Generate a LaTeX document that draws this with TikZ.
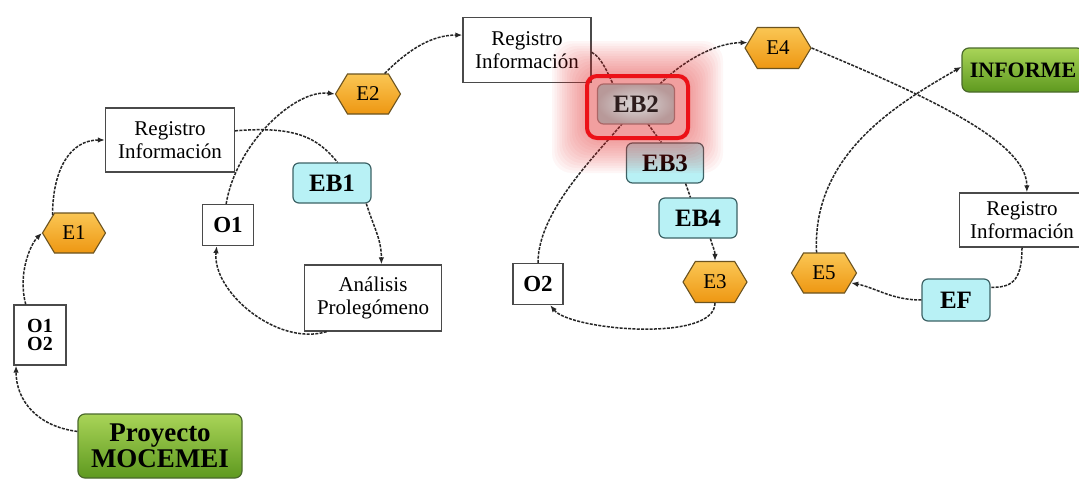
\documentclass[tikz,border=0pt]{standalone}
\usepackage{fontspec}
\setmainfont{Liberation Serif}
\usetikzlibrary{shapes.symbols,arrows.meta}
\definecolor{linegray}{HTML}{262626}
\definecolor{boxgray}{HTML}{4A4A4A}
\definecolor{hexline}{HTML}{6B5320}
\definecolor{hextop}{HTML}{FAC654}
\definecolor{hexbot}{HTML}{EE9712}
\definecolor{cyanfill}{HTML}{B8F1F5}
\definecolor{cyanline}{HTML}{3D6366}
\definecolor{greentop}{HTML}{A9D458}
\definecolor{greenbot}{HTML}{5E991F}
\definecolor{greenline}{HTML}{4B6A2C}
\definecolor{framered}{HTML}{EC1117}
\definecolor{halo}{HTML}{E62A2A}
\definecolor{ebtext}{HTML}{2E1E1E}
\begin{document}
\begin{tikzpicture}[x=1pt,y=-1pt,
  regbox/.style={draw=boxgray, line width=1.3pt, fill=white, align=center, inner sep=0pt,
    font=\fontsize{21}{23}\selectfont},
  obox/.style={draw=boxgray, line width=1.3pt, fill=white, align=center, inner sep=0pt,
    font=\fontsize{23}{20}\selectfont\bfseries},
  hexnode/.style={shape=signal, signal to=west and east, signal pointer angle=118,
    draw=hexline, line width=1.1pt, top color=hextop, bottom color=hexbot,
    inner sep=0pt, font=\fontsize{21}{22}\selectfont},
  ebox/.style={draw=cyanline, line width=1.2pt, rounded corners=6pt, fill=cyanfill,
    inner sep=0pt, font=\fontsize{25}{26}\selectfont\bfseries},
  gbox/.style={draw=greenline, line width=1.2pt, rounded corners=7pt,
    top color=greentop, bottom color=greenbot, align=center, inner sep=0pt},
  conn/.style={draw=linegray, line width=1.5pt, dash pattern=on 3pt off 1.3pt},
  arr/.style={conn, -{Latex[length=7pt,width=5.5pt]}}
]
\useasboundingbox (0,0) rectangle (1079,479);
\fill[white] (0,0) rectangle (1079,479);

% ---- boxes ----
\node[gbox, minimum width=164, minimum height=64,
      font=\fontsize{27}{26}\selectfont\bfseries] (proj) at (160,446) {Proyecto\\MOCEMEI};
\node[obox, minimum width=52, minimum height=60,
      font=\fontsize{20}{18}\selectfont\bfseries] (oo) at (40,335) {O1\\O2};
\node[hexnode, minimum width=63, minimum height=40] (e1) at (74,233) {E1};
\node[regbox, minimum width=129, minimum height=64] (r1) at (170,140) {Registro\\Información};
\node[obox, minimum width=51, minimum height=41] (o1) at (228,225) {O1};
\node[ebox, minimum width=78, minimum height=40] (eb1) at (332,183) {EB1};
\node[regbox, minimum width=137, minimum height=66] (an) at (373,298) {Análisis\\Prolegómeno};
\node[hexnode, minimum width=65, minimum height=40] (e2) at (368,94) {E2};
\node[regbox, minimum width=128, minimum height=65] (r2) at (527,50) {Registro\\Información};
\node[obox, minimum width=50, minimum height=41] (o2) at (538,284) {O2};
\node[ebox, minimum width=77, minimum height=40] (eb3) at (665,163) {EB3};
\node[ebox, minimum width=78, minimum height=40] (eb4) at (698,218) {EB4};
\node[hexnode, minimum width=64, minimum height=41] (e3) at (715,282) {E3};
\node[hexnode, minimum width=66, minimum height=41] (e4) at (778,48) {E4};
\node[gbox, minimum width=122, minimum height=44,
      font=\fontsize{22}{22}\selectfont\bfseries] (inf) at (1023,70) {INFORME};
\node[regbox, minimum width=125, minimum height=54] (r3) at (1022,220) {Registro\\Información};
\node[hexnode, minimum width=65, minimum height=40] (e5) at (824,273) {E5};
\node[ebox, minimum width=68, minimum height=42] (ef) at (956,300) {EF};

% ---- connectors ----
\draw[arr] (proj.170) .. controls +(-40,-5) and +(0,35) .. (oo.232);
\draw[arr] (oo.115) .. controls +(-8,-30) and +(-12,12) .. (e1.west);
\draw[arr] (e1.140) .. controls +(0,-45) and +(-35,0) .. (r1.west);
\draw[conn] (r1.8) .. controls +(60,-5) and +(-20,-25) .. (eb1.75);
\draw[arr] (eb1.-31) .. controls +(8,25) and +(0,-25) .. (an.76);
\draw[arr] (an.216) .. controls +(-50,15) and +(-5,45) .. (o1.242);
\draw[arr] (o1.95) .. controls +(10,-60) and +(-40,-5) .. (e2.west);
\draw[arr] (e2.51) .. controls +(25,-25) and +(-30,0) .. (r2.167);
\draw[conn] (r2.-2) .. controls +(10,5) and +(-5,-10) .. (613,84) coordinate (eb2nw);
\draw[arr] (660,84) coordinate (eb2ne) .. controls +(25,-25) and +(-30,0) .. (e4.170);
\draw[conn] (648,124) coordinate (eb2s) -- (eb3.100);
\draw[conn] (eb3.-45) -- (eb4.110);
\draw[arr] (eb4.-59) .. controls +(3,10) and +(0,-10) .. (e3.north);
\draw[arr] (e3.south) .. controls +(0,40) and +(20,25) .. (o2.-60);
\draw[conn] (o2.north) .. controls +(0,-50) and +(-30,35) .. (622,124) coordinate (eb2sw);
\draw[arr] (e4.east) .. controls +(120,50) and +(0,-50) .. (r3.80);
\draw[conn] (r3.south) .. controls +(0,35) and +(20,0) .. (ef.20);
\draw[arr] (ef.west) .. controls +(-30,0) and +(25,5) .. (e5.-20);
\draw[arr] (e5.110) .. controls +(-5,-100) and +(-60,35) .. (inf.177);

% ---- highlighted step: soft red halo, node and frame ----
\foreach \i in {1,...,14}
  \fill[halo, opacity=0.04, rounded corners=20pt]
    ({587-2.5*\i},{76-2.5*\i}) rectangle ({688+2.5*\i},{138+2.5*\i});
\node[draw=red!45!black!60, line width=1.2pt, rounded corners=6pt,
      inner color=black!14, outer color=red!30!black!40,
      minimum width=77, minimum height=40, inner sep=0pt,
      font=\fontsize{25}{26}\selectfont\bfseries, text=ebtext] (eb2) at (636,104) {EB2};
\draw[framered, line width=4pt, rounded corners=10pt] (587,76) rectangle (688,138);
\end{tikzpicture}
\end{document}
